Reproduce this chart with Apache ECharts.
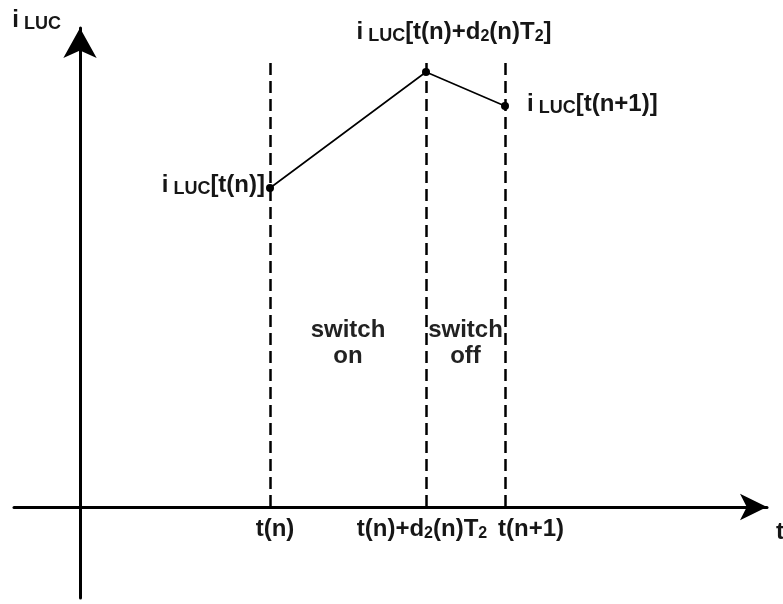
<!DOCTYPE html>
<html>
<head>
<meta charset="utf-8">
<style>
  html, body { margin: 0; padding: 0; background: #fff; }
  #chart { width: 783px; height: 604px; }
</style>
<script src="https://cdn.jsdelivr.net/npm/echarts@6/dist/echarts.min.js"></script>
</head>
<body>
<div id="chart"></div>
<script>
// sampling instants, measured from the origin
const timePoints = [190, 346, 425];
const timeLabels = ['t(n)', 't(n)+d{sub|2}(n)T{sub|2}', 't(n+1)'];
// inductor current at each instant
const currentValues = [319, 435, 401];
const pointLabels = [
  '{i|i}{luc|LUC}[t(n)]',
  '{i|i}{luc|LUC}[t(n)+d{sub|2}(n)T{sub|2}]',
  '{i|i}{luc|LUC}[t(n+1)]'
];
// how high the dashed markers reach
const markerTops = [447, 445, 445];
const phaseNames = ['switch\non', 'switch\noff'];

const FONT = 'Liberation Sans';
const INK = '#161616';

const rich = {
  i: { fontSize: 24, fontWeight: 'bold', color: INK, fontFamily: FONT, lineHeight: 26 },
  luc: { fontSize: 18, fontWeight: 'bold', color: INK, fontFamily: FONT, lineHeight: 14, verticalAlign: 'bottom', padding: [0, 0, 0, 5] },
  sub: { fontSize: 16, fontWeight: 'bold', color: INK, fontFamily: FONT, lineHeight: 12, verticalAlign: 'bottom' }
};

const textBase = {
  fontSize: 24,
  fontWeight: 'bold',
  fontFamily: FONT,
  color: INK,
  lineHeight: 26,
  rich: rich
};

// label placement around each dot
const pointLabelOpts = [
  { position: 'left', distance: 1, offset: [0, -3] },
  { position: 'top', distance: 23, offset: [28, 0] },
  { position: 'right', distance: 18, offset: [0, -2] }
];
// tick labels sit a little off their marker lines
const tickLabelShift = [5, -4, 26];

const chart = echarts.init(document.getElementById('chart'));

const option = {
  animation: false,
  grid: { left: 14, right: 16, top: 28, bottom: 6, containLabel: false, outerBoundsMode: 'none' },
  xAxis: {
    type: 'value',
    min: -66,
    max: 687,
    name: 't',
    nameLocation: 'end',
    nameGap: 9,
    nameTextStyle: Object.assign({}, textBase, { align: 'left', verticalAlign: 'top', padding: [12, 0, 0, 0] }),
    axisLine: {
      onZero: true,
      symbol: ['none', 'arrow'],
      symbolSize: [20, 27],
      lineStyle: { color: '#000', width: 3 }
    },
    axisTick: { show: false },
    axisLabel: { show: false },
    splitLine: { show: false }
  },
  yAxis: {
    type: 'value',
    min: -91,
    max: 479,
    name: '{i|i}{luc|LUC}',
    nameLocation: 'end',
    nameGap: -5,
    nameTextStyle: Object.assign({}, textBase, { align: 'right', verticalAlign: 'bottom', padding: [0, 19, 0, 0] }),
    axisLine: {
      onZero: true,
      symbol: ['none', 'arrow'],
      symbolSize: [25, 30],
      lineStyle: { color: '#000', width: 3 }
    },
    axisTick: { show: false },
    axisLabel: { show: false },
    splitLine: { show: false }
  },
  series: [
    {
      type: 'line',
      silent: true,
      symbol: 'circle',
      symbolSize: 8,
      itemStyle: { color: '#000' },
      lineStyle: { color: '#000', width: 1.6 },
      data: currentValues.map((v, i) => ({
        value: [timePoints[i], v],
        label: Object.assign({ show: true, formatter: pointLabels[i] }, textBase, pointLabelOpts[i])
      })),
      markLine: {
        silent: true,
        symbol: 'none',
        label: { show: false },
        lineStyle: { color: '#000', width: 2.5, type: [12, 6] },
        data: timePoints.map((x, i) => [{ coord: [x, 0] }, { coord: [x, markerTops[i]] }])
      },
      z: 3
    },
    {
      // tick labels under the time axis
      type: 'scatter',
      silent: true,
      symbolSize: 0,
      itemStyle: { opacity: 1, color: 'transparent' },
      data: timePoints.map((x, i) => ({
        value: [x, 0],
        label: { offset: [tickLabelShift[i], 0], formatter: timeLabels[i] }
      })),
      label: Object.assign({ show: true, position: 'bottom', distance: 9 }, textBase)
    },
    {
      type: 'scatter',
      silent: true,
      symbolSize: 0,
      itemStyle: { opacity: 1, color: 'transparent' },
      data: [
        { value: [(timePoints[0] + timePoints[1]) / 2, 164], name: phaseNames[0] },
        { value: [(timePoints[1] + timePoints[2]) / 2, 164], name: phaseNames[1] }
      ],
      label: Object.assign({ show: true, position: 'inside', formatter: '{b}' }, textBase, { color: '#222' })
    }
  ]
};

chart.setOption(option);
</script>
</body>
</html>
